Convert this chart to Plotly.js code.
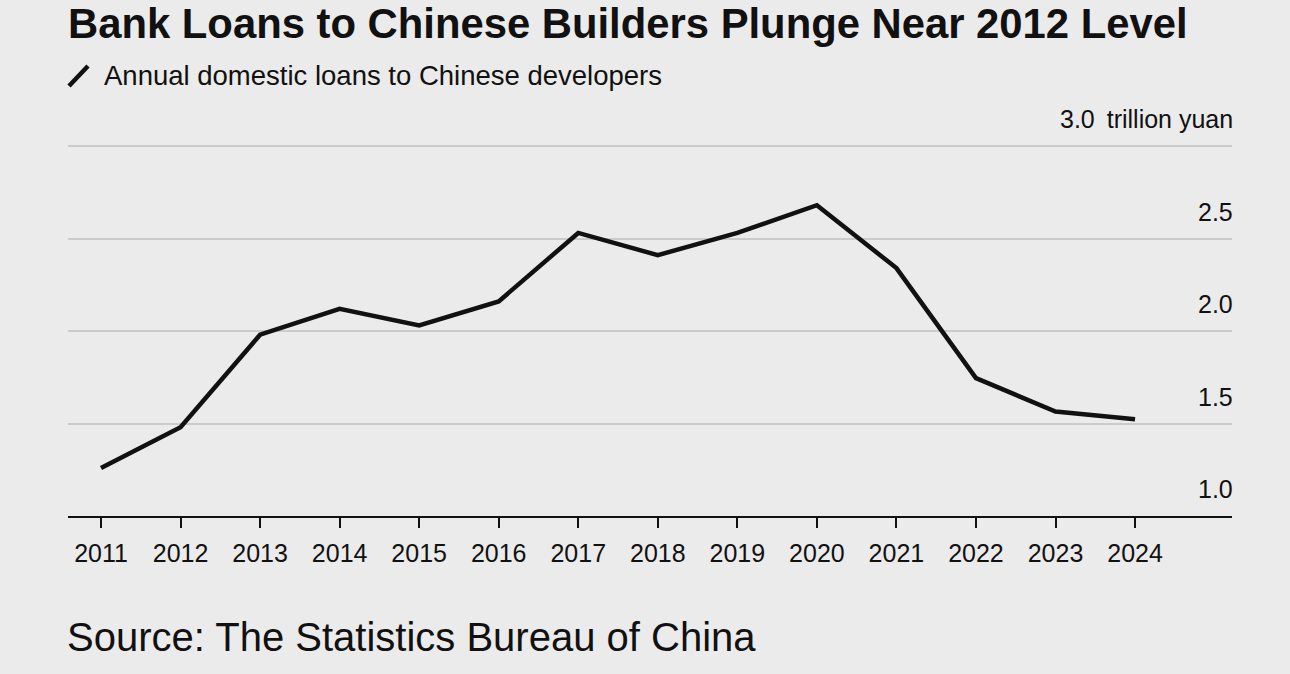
<!DOCTYPE html>
<html>
<head>
<meta charset="utf-8">
<script src="https://cdn.plot.ly/plotly-3.0.1.min.js"></script>
<style>
html,body{margin:0;padding:0;background:#ebebeb;}
#chart{width:1290px;height:674px;}
</style>
</head>
<body>
<div id="chart"></div>
<script>
// Data (trillion yuan)
const years = [2011, 2012, 2013, 2014, 2015, 2016, 2017, 2018, 2019, 2020, 2021, 2022, 2023, 2024];
const loans = [1.26, 1.48, 1.98, 2.12, 2.03, 2.16, 2.53, 2.41, 2.53, 2.68, 2.34, 1.745, 1.565, 1.523];
const yTickVals = [1.0, 1.5, 2.0, 2.5, 3.0];
const yTickText = ["1.0", "1.5", "2.0", "2.5", "3.0\u2009 trillion yuan"];
const xTickVals = years;
const xTickText = years.map(String);

const titleText = "Bank Loans to Chinese Builders Plunge Near 2012 Level";
const subtitleText = "Annual domestic loans to Chinese developers";
const sourceText = "Source: The Statistics Bureau of China";

const FONT = "'Liberation Sans', Arial, Helvetica, sans-serif";
const INK = "#111111";

const trace = {
  x: years,
  y: loans,
  type: "scatter",
  mode: "lines",
  line: {color: INK, width: 4.5},
  hoverinfo: "skip",
  showlegend: false
};

const PW = 1164, PH = 425;

// y-axis labels sit above their gridlines at the right edge
const yLabelAnnotations = yTickVals.map((v, i) => ({
  text: yTickText[i],
  xref: "paper", yref: "y",
  x: 1, y: v, xanchor: "right", yanchor: "middle",
  xshift: 3, yshift: 27,
  showarrow: false,
  font: {size: 25, color: INK, family: FONT}
}));

const layout = {
  width: 1290,
  height: 674,
  paper_bgcolor: "#ebebeb",
  plot_bgcolor: "#ebebeb",
  margin: {l: 68, r: 58, t: 91, b: 158, pad: 0},
  font: {family: FONT, color: INK},
  showlegend: false,
  xaxis: {
    range: [2010.585, 2025.219],
    tickvals: xTickVals,
    ticktext: xTickText,
    showgrid: false,
    zeroline: false,
    showline: true,
    linecolor: INK,
    linewidth: 2,
    ticks: "outside",
    ticklen: 10,
    tickwidth: 2,
    tickcolor: INK,
    ticklabelstandoff: 4,
    tickfont: {size: 25, color: INK, family: FONT},
    fixedrange: true
  },
  yaxis: {
    range: [1.0, 3.2973],
    side: "right",
    tickvals: yTickVals,
    showticklabels: false,
    ticks: "",
    showgrid: true,
    gridcolor: "#cbcbcb",
    gridwidth: 2,
    zeroline: false,
    showline: false,
    fixedrange: true
  },
  annotations: [
    {
      text: "<b>" + titleText + "</b>",
      xref: "paper", yref: "paper",
      x: -2 / PW, y: (516 - 24) / PH, xanchor: "left", yanchor: "middle",
      showarrow: false,
      font: {size: 41.8, color: INK, family: FONT}
    },
    {
      text: subtitleText,
      xref: "paper", yref: "paper",
      x: 34 / PW, y: (516 - 76) / PH, xanchor: "left", yanchor: "middle",
      showarrow: false,
      font: {size: 27.5, color: INK, family: FONT}
    },
    {
      text: sourceText,
      xref: "paper", yref: "paper",
      x: -3 / PW, y: (516 - 637) / PH, xanchor: "left", yanchor: "middle",
      showarrow: false,
      font: {size: 40, color: INK, family: FONT}
    }
  ].concat(yLabelAnnotations),
  shapes: [
    {
      type: "line",
      xref: "paper", yref: "paper",
      x0: 1 / PW, y0: (516 - 86) / PH, x1: 20 / PW, y1: (516 - 66) / PH,
      line: {color: INK, width: 4.5}
    }
  ]
};

Plotly.newPlot("chart", [trace], layout, {displayModeBar: false, staticPlot: true});
</script>
</body>
</html>
